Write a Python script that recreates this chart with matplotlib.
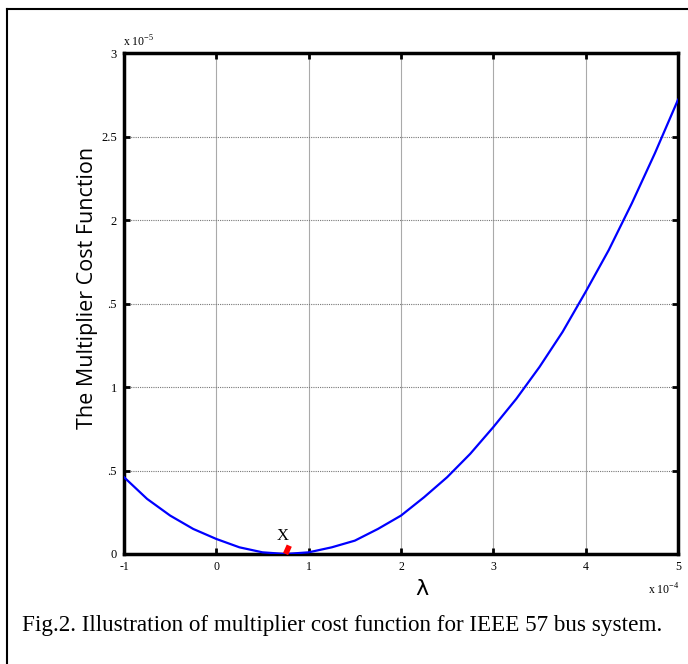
import matplotlib
matplotlib.use('Agg')
import matplotlib.pyplot as plt
from matplotlib.lines import Line2D
import numpy as np

# lambda (x 1e-4) and multiplier cost (x 1e-5)
lam = [-1, -0.75, -0.5, -0.25, 0, 0.25, 0.5, 0.75, 1, 1.25, 1.5, 1.75, 2,
       2.25, 2.5, 2.75, 3, 3.25, 3.5, 3.75, 4, 4.25, 4.5, 4.75, 5]
cost = [0.46, 0.33, 0.23, 0.15, 0.09, 0.04, 0.01, 0.00, 0.01, 0.04, 0.08, 0.15, 0.23,
        0.34, 0.46, 0.60, 0.76, 0.93, 1.12, 1.33, 1.57, 1.82, 2.10, 2.40, 2.72]

opt_lam = [0.75, 0.79]
opt_cost = [0.0, 0.05]

xticks = [-1, 0, 1, 2, 3, 4, 5]
yticks = [0, 0.5, 1, 1.5, 2, 2.5, 3]
ylabels = ['0', '.5', '1', '.5', '2', '2.5', '3']

serif = 'Liberation Serif'
W, H = 688, 664

fig = plt.figure(figsize=(6.88, 6.64), dpi=100)
ax = fig.add_axes([124/W, 110/H, 554/W, 501/H])

ax.plot(lam, cost, color='#0000ff', lw=1.6, zorder=3)
ax.plot(opt_lam, opt_cost, color='#ff0000', lw=4, solid_capstyle='butt', zorder=4, clip_on=False)
ax.text(0.72, 0.085, 'X', fontsize=12, family=serif, ha='center', va='baseline')

ax.set_xlim(-1, 5)
ax.set_ylim(0, 3)
ax.set_xticks(xticks)
ax.set_xticklabels([str(t) for t in xticks], family=serif, fontsize=8.5)
ax.set_yticks(yticks)
ax.set_yticklabels(ylabels, family=serif, fontsize=9)

ax.xaxis.grid(True, color='#aaaaaa', lw=0.8, ls='-')
ax.yaxis.grid(True, color='#777777', lw=0.8, ls=(0, (1, 1)))
ax.set_axisbelow(True)

ax.tick_params(direction='in', length=4, width=2, top=True, right=True, pad=5)
for s in ax.spines.values():
    s.set_linewidth(2.5)

fig.text(88/W, 1 - 288/H, 'The Multiplier Cost Function', fontsize=15.5, family='Open Sans',
         rotation=90, ha='center', va='center')
fig.text(422/W, 1 - 589/H, 'λ', fontsize=16, family='DejaVu Sans', ha='center', va='center')
fig.text(648/W, 1 - 590/H, r'x 10$^{\mathregular{-4}}$', fontsize=8.5, family=serif, ha='left', va='center')
fig.text(123/W, 1 - 42/H, r'x 10$^{\mathregular{-5}}$', fontsize=8.5, family=serif, ha='left', va='center')

fig.text(22/W, 1 - 626/H, 'Fig.2. Illustration of multiplier cost function for IEEE 57 bus system.',
         fontsize=16.7, family=serif, ha='left', va='center')

# outer frame around the figure
fig.add_artist(Line2D([7/W, 7/W], [0, 1 - 9/H], transform=fig.transFigure, color='black', lw=1.5))
fig.add_artist(Line2D([7/W, 1], [1 - 9/H, 1 - 9/H], transform=fig.transFigure, color='black', lw=1.5))

fig.savefig('out.png', dpi=100)
